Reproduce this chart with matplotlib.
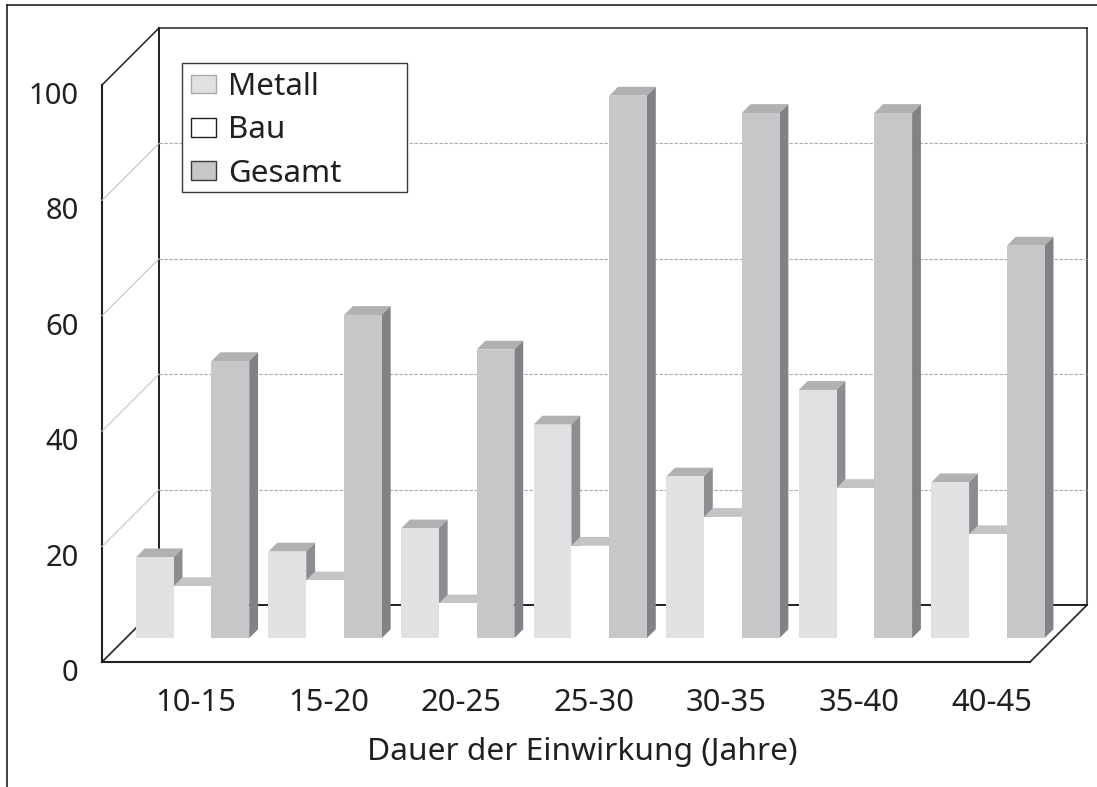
# -*- coding: utf-8 -*-
import matplotlib
matplotlib.use('Agg')
import matplotlib.pyplot as plt
from matplotlib.patches import Polygon, Patch, Rectangle
from matplotlib.transforms import ScaledTranslation

plt.rcParams['font.family'] = ['Noto Sans', 'DejaVu Sans']

# Data
categories = ['10-15', '15-20', '20-25', '25-30', '30-35', '35-40', '40-45']
metall = [14, 15, 19, 37, 28, 43, 27]
bau = [9, 10, 6, 16, 21, 26, 18]
gesamt = [48, 56, 50, 94, 91, 91, 68]
y_ticks = [0, 20, 40, 60, 80, 100]
grid_values = [20, 40, 60, 80]
x_title = 'Dauer der Einwirkung (Jahre)'

W, H = 1097, 787
FS_Y = 21
FS_X = 22.3
FS_TITLE = 22.8
FS_LEG = 22.5
TEXT = '#231f20'

# 3D look: depth 1 is the back wall, depth 0 the front edge of the floor
DX = 0.43   # categories
DY = 9.88   # value units
BAR_DEPTH = 0.42
BAR_THICK = 0.155
BAR_W = 0.285
BAR_START = 0.075


def proj(x, v, d):
    return (x + d * DX, v + d * DY)


fig = plt.figure(figsize=(W / 100, H / 100), dpi=100, facecolor='white')
ax = fig.add_axes([102 / W, 1 - 662 / H, 928 / W, 577 / H])
ax.set_xlim(0, len(categories))
ax.set_ylim(0, 100)
ax.patch.set_visible(False)
for s in ax.spines.values():
    s.set_visible(False)


def line(p, q, color=TEXT, lw=1.3, ls='-', z=1):
    ax.plot([p[0], q[0]], [p[1], q[1]], color=color, lw=lw, ls=ls, zorder=z,
            clip_on=False, solid_capstyle='projecting')


n = len(categories)

# walls and floor
line(proj(0, 0, 1), proj(n, 0, 1), lw=1.4)
line(proj(0, 0, 1), proj(0, 100, 1), lw=1.4)
line(proj(n, 0, 1), proj(n, 100, 1), lw=1.1)
line(proj(0, 100, 1), proj(n, 100, 1), lw=1.1)
line(proj(0, 0, 0), proj(0, 100, 0), lw=1.5)
line(proj(0, 100, 0), proj(0, 100, 1), lw=1.1)
line(proj(0, 0, 0), proj(n, 0, 0), lw=1.5)
line(proj(0, 0, 0), proj(0, 0, 1), lw=1.2)
line(proj(n, 0, 0), proj(n, 0, 1), lw=1.2)

for v in grid_values:
    line(proj(0, v, 1), proj(n, v, 1), color='#a8a9ab', lw=0.8, ls=(0, (3, 1.5)))
    line(proj(0, v, 0), proj(0, v, 1), color='#c4c5c7', lw=0.8)


def bar(x, v, front, side, top, z):
    d0, d1 = BAR_DEPTH, BAR_DEPTH + BAR_THICK
    x1 = x + BAR_W
    ax.add_patch(Polygon([proj(x, v, d0), proj(x1, v, d0), proj(x1, v, d1), proj(x, v, d1)],
                         fc=top, ec='none', zorder=z, clip_on=False))
    ax.add_patch(Polygon([proj(x1, 0, d0), proj(x1, v, d0), proj(x1, v, d1), proj(x1, 0, d1)],
                         fc=side, ec='none', zorder=z, clip_on=False))
    ax.add_patch(Polygon([proj(x, 0, d0), proj(x1, 0, d0), proj(x1, v, d0), proj(x, v, d0)],
                         fc=front, ec='none', zorder=z + 0.1, clip_on=False))


for i in range(n):
    x = i + BAR_START
    bar(x, metall[i], '#e0e1e3', '#8b8d90', '#b0b1b3', 3)
    bar(x + BAR_W, bau[i], 'white', 'white', '#c3c4c6', 4)
    bar(x + 2 * BAR_W, gesamt[i], '#c6c7c9', '#808285', '#b0b1b3', 5)

# ticks
ax.set_yticks(y_ticks)
ax.set_yticklabels([str(v) for v in y_ticks], fontsize=FS_Y, color=TEXT)
ax.tick_params(axis='y', length=0, pad=17)
shift = ScaledTranslation(0, -8 / 100, fig.dpi_scale_trans)
for lab in ax.get_yticklabels():
    lab.set_transform(lab.get_transform() + shift)

ax.set_xticks([i + 0.53 + BAR_DEPTH * DX for i in range(n)])
ax.set_xticklabels(categories, fontsize=FS_X, color=TEXT)
ax.tick_params(axis='x', length=0, pad=19)
ax.set_xlabel(x_title, fontsize=FS_TITLE, color=TEXT)
ax.xaxis.set_label_coords(0.518, -0.130)

# legend box
fig.add_artist(Rectangle((182 / W, 1 - 192 / H), 225 / W, 129 / H, transform=fig.transFigure,
                         fc='white', ec='#3a3a3c', lw=1.0, zorder=6))
handles = [Patch(fc='#e0e1e3', ec='#a8a9ab', lw=1.0, label='Metall'),
           Patch(fc='white', ec=TEXT, lw=1.0, label='Bau'),
           Patch(fc='#c6c7c9', ec='#3a3a3c', lw=1.0, label='Gesamt')]
leg = fig.legend(handles=handles, loc='upper left', bbox_to_anchor=(191 / W, 1 - 72 / H),
                 frameon=False, fontsize=FS_LEG, labelcolor=TEXT, borderaxespad=0, borderpad=0,
                 handlelength=0.8, handleheight=0.545, handletextpad=0.38, labelspacing=0.43)
leg.set_zorder(7)

# outer frame
fig.add_artist(plt.Line2D([7 / W, 1], [1 - 5 / H, 1 - 5 / H], color=TEXT, lw=1.2))
fig.add_artist(plt.Line2D([7 / W, 7 / W], [0, 1 - 5 / H], color=TEXT, lw=1.2))

fig.savefig('out.png', dpi=100)
